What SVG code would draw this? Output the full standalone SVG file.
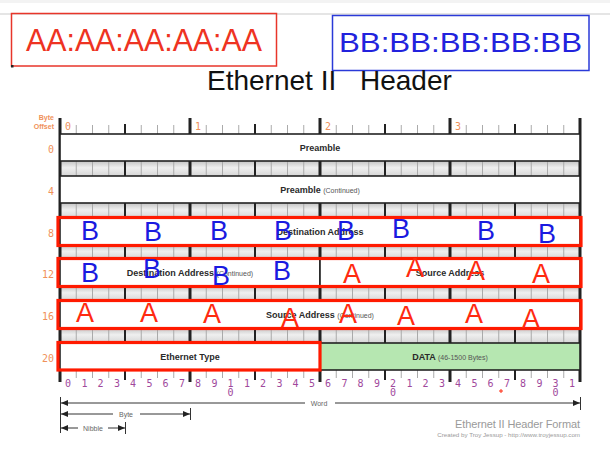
<svg xmlns="http://www.w3.org/2000/svg" width="610" height="452" viewBox="0 0 610 452">
<style>
.row{fill:#fff;stroke:#222;stroke-width:1.6}
.lbl{font-family:"Liberation Sans",Arial,sans-serif;font-size:9px;font-weight:bold;fill:#2a2a2a;text-anchor:middle}
.cont{font-size:7px;font-weight:normal;fill:#555}
.off{font-family:"DejaVu Sans Mono",monospace;font-size:10px;fill:#f0915a;text-anchor:end}
.top{font-family:"DejaVu Sans Mono",monospace;font-size:10px;fill:#f0915a}
.bit{font-family:"DejaVu Sans Mono",monospace;font-size:10px;fill:#a0489c;text-anchor:middle}
.bitl{stroke:#aaa;stroke-width:1}
.nib{stroke:#222;stroke-width:2}
.byt{stroke:#222;stroke-width:3}
.ann{fill:none;stroke:#ff1a00;stroke-width:3.2}
.hB{font-family:"Liberation Sans",Arial,sans-serif;font-size:27px;fill:#1a1ae0;text-anchor:middle}
.hA{font-family:"Liberation Sans",Arial,sans-serif;font-size:27px;fill:#ff2a10;text-anchor:middle}
.dim{stroke:#333;stroke-width:1;fill:none}
.dimt{font-family:"Liberation Sans",Arial,sans-serif;font-size:7px;fill:#666;text-anchor:middle}
</style>
<defs>
<linearGradient id="strip" x1="0" y1="0" x2="0" y2="1">
<stop offset="0" stop-color="#c4c4c4"/><stop offset="0.45" stop-color="#efefef"/><stop offset="1" stop-color="#d6d6d6"/>
</linearGradient>
<marker id="ah" markerUnits="userSpaceOnUse" markerWidth="7" markerHeight="6" refX="7" refY="3" orient="auto-start-reverse">
<path d="M0,0 L7,3 L0,6 z" fill="#222"/>
</marker>
</defs>

<rect x="0" y="0" width="610" height="3" fill="#f3f3f3"/>
<line x1="0" y1="14" x2="610" y2="14" stroke="#ddd" stroke-width="1.5"/>

<g id="aa-box">
<rect x="11.5" y="13.5" width="265" height="52.5" fill="none" stroke="#e8352a" stroke-width="1.5"/>
<text x="26" y="51" font-family="Liberation Sans,Arial,sans-serif" font-size="32" fill="#ee3322" textLength="236" lengthAdjust="spacingAndGlyphs">AA:AA:AA:AA:AA</text>
</g>
<rect x="11" y="65" width="2.5" height="2.5" fill="#222"/>
<g id="bb-box">
<rect x="332.5" y="15.5" width="256.5" height="55" fill="none" stroke="#2a3ad8" stroke-width="1.5"/>
<text x="339" y="52" font-family="Liberation Sans,Arial,sans-serif" font-size="28" fill="#2222dd" textLength="243" lengthAdjust="spacingAndGlyphs">BB:BB:BB:BB:BB</text>
</g>

<text id="title" x="207" y="90" font-family="Liberation Sans,Arial,sans-serif" font-size="28" fill="#111">Ethernet II<tspan x="360">Header</tspan></text>

<g id="byte-offset" font-family="Liberation Sans,Arial,sans-serif" font-size="7" fill="#f0915a" text-anchor="end" font-weight="bold">
<text x="54" y="120">Byte</text>
<text x="54" y="129">Offset</text>
</g>

<g id="strips" fill="url(#strip)">
<rect x="60" y="161" width="520" height="15"/>
<rect x="60" y="203" width="520" height="15"/>
<rect x="60" y="245" width="520" height="14"/>
<rect x="60" y="286" width="520" height="15"/>
<rect x="60" y="328" width="520" height="15"/>
</g>

<g id="ruler">
<g class="bitl">
<path d="M76.25 125V378M92.5 125V378M108.75 125V378M141.25 125V378M157.5 125V378M173.75 125V378M206.25 125V378M222.5 125V378M238.75 125V378M271.25 125V378M287.5 125V378M303.75 125V378M336.25 125V378M352.5 125V378M368.75 125V378M401.25 125V378M417.5 125V378M433.75 125V378M466.25 125V378M482.5 125V378M498.75 125V378M531.25 125V378M547.5 125V378M563.75 125V378"/>
</g>
<path class="nib" d="M125 124V380M255 124V380M385 124V380M515 124V380"/>
<path class="byt" d="M60 118V382M190 118V382M320 118V382M450 118V382M580 118V382"/>
</g>

<g id="top-digits" class="top">
<text x="65" y="130">0</text><text x="195" y="130">1</text><text x="325" y="130">2</text><text x="455" y="130">3</text>
</g>

<g id="row0">
<rect class="row" x="60" y="134" width="520" height="27"/>
<text class="off" x="54" y="153">0</text>
<text class="lbl" x="320" y="151">Preamble</text>
</g>
<g id="row4">
<rect class="row" x="60" y="176" width="520" height="27"/>
<text class="off" x="54" y="195">4</text>
<text class="lbl" x="320" y="193">Preamble <tspan class="cont">(Continued)</tspan></text>
</g>
<g id="row8">
<rect class="row" x="60" y="218" width="520" height="27"/>
<text class="off" x="54" y="237">8</text>
<text class="lbl" x="320" y="235">Destination Address</text>
</g>
<g id="row12">
<rect class="row" x="60" y="259" width="260" height="27"/>
<rect class="row" x="320" y="259" width="260" height="27"/>
<text class="off" x="54" y="278">12</text>
<text class="lbl" x="190" y="276">Destination Address <tspan class="cont">(Continued)</tspan></text>
<text class="lbl" x="450" y="276">Source Address</text>
</g>
<g id="row16">
<rect class="row" x="60" y="301" width="520" height="27"/>
<text class="off" x="54" y="320">16</text>
<text class="lbl" x="320" y="318">Source Address <tspan class="cont">(Continued)</tspan></text>
</g>
<g id="row20">
<rect class="row" x="60" y="343" width="260" height="27"/>
<rect class="row" x="320" y="343" width="260" height="27" style="fill:#b6e7b1"/>
<text class="off" x="54" y="362">20</text>
<text class="lbl" x="190" y="360">Ethernet Type</text>
<text class="lbl" x="450" y="360">DATA <tspan class="cont">(46-1500 Bytes)</tspan></text>
</g>

<g id="bit-digits" class="bit">
<text x="68.1" y="387">0</text><text x="84.4" y="387">1</text><text x="100.6" y="387">2</text><text x="116.9" y="387">3</text>
<text x="133.1" y="387">4</text><text x="149.4" y="387">5</text><text x="165.6" y="387">6</text><text x="181.9" y="387">7</text>
<text x="198.1" y="387">8</text><text x="214.4" y="387">9</text><text x="230.6" y="387">1</text><text x="230.6" y="396">0</text><text x="246.9" y="387">1</text>
<text x="263.1" y="387">2</text><text x="279.4" y="387">3</text><text x="295.6" y="387">4</text><text x="311.9" y="387">5</text>
<text x="328.1" y="387">6</text><text x="344.4" y="387">7</text><text x="360.6" y="387">8</text><text x="376.9" y="387">9</text>
<text x="393.1" y="387">2</text><text x="393.1" y="396">0</text><text x="409.4" y="387">1</text><text x="425.6" y="387">2</text><text x="441.9" y="387">3</text>
<text x="458.1" y="387">4</text><text x="474.4" y="387">5</text><text x="490.6" y="387">6</text><text x="506.9" y="387">7</text>
<text x="523.1" y="387">8</text><text x="539.4" y="387">9</text><text x="555.6" y="387">3</text><text x="555.6" y="396">0</text><text x="571.9" y="387">1</text>
</g>
<path d="M501 389V393M499 391H503" stroke="#ff2a10" stroke-width="1"/>

<g id="connectors">
<path class="dim" d="M60.5 397V433M580.5 397V410M190.5 408V420M125.5 422V434"/>
<line class="dim" x1="305" y1="403" x2="61" y2="403" marker-end="url(#ah)"/>
<line class="dim" x1="335" y1="403" x2="580" y2="403" marker-end="url(#ah)"/>
<line class="dim" x1="113" y1="414" x2="61" y2="414" marker-end="url(#ah)"/>
<line class="dim" x1="140" y1="414" x2="190" y2="414" marker-end="url(#ah)"/>
<line class="dim" x1="78" y1="428" x2="61" y2="428" marker-end="url(#ah)"/>
<line class="dim" x1="108" y1="428" x2="125" y2="428" marker-end="url(#ah)"/>
<text class="dimt" x="319" y="406">Word</text>
<text class="dimt" x="126" y="417">Byte</text>
<text class="dimt" x="93" y="431">Nibble</text>
</g>

<g id="footer" font-family="Liberation Sans,Arial,sans-serif" fill="#9a9a9a" text-anchor="end">
<text x="580" y="428" font-size="11" textLength="125">Ethernet II Header Format</text>
<text x="580" y="437" font-size="6.2">Created by Troy Jessup - http://www.troyjessup.com</text>
</g>

<g id="annotations">
<rect class="ann" x="58" y="217.5" width="523" height="28"/>
<rect class="ann" x="58" y="258.5" width="523" height="28"/>
<rect class="ann" x="58" y="300.5" width="523" height="28"/>
<rect class="ann" x="58" y="342.5" width="262" height="27.5"/>
<g class="hB">
<text x="90" y="240">B</text><text x="153" y="241">B</text><text x="219" y="240">B</text><text x="283" y="240">B</text>
<text x="346" y="240">B</text><text x="401" y="238">B</text><text x="486" y="240">B</text><text x="547" y="243">B</text>
<text x="90" y="282">B</text><text x="152" y="278">B</text><text x="221" y="285">B</text><text x="282" y="280">B</text>
</g>
<g class="hA">
<text x="352" y="283">A</text><text x="415" y="277">A</text><text x="476" y="280">A</text><text x="541" y="283">A</text>
<text x="85" y="322">A</text><text x="149" y="322">A</text><text x="212" y="323">A</text><text x="290" y="327">A</text>
<text x="348" y="323">A</text><text x="406" y="325">A</text><text x="474" y="323">A</text><text x="531" y="328">A</text>
</g>
</g>
</svg>
